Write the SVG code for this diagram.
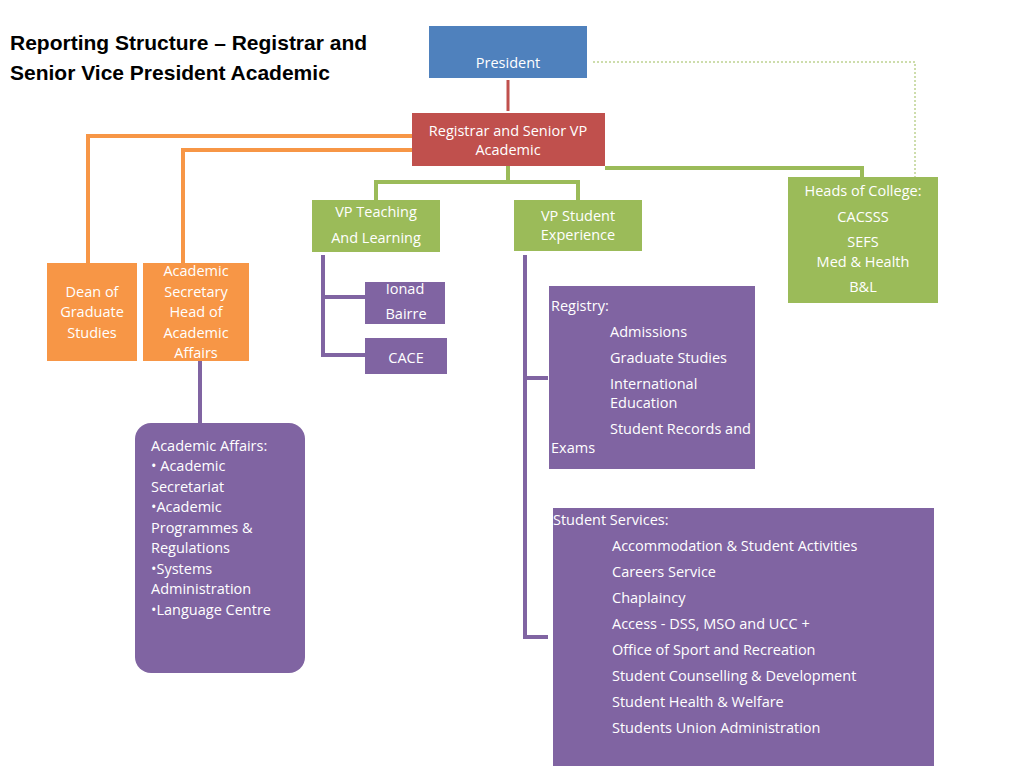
<svg xmlns="http://www.w3.org/2000/svg" width="1024" height="768" viewBox="0 0 1024 768">
<style>
text{font-family:"Open Sans","Liberation Sans",sans-serif;font-size:14.5px;fill:#fff}
.c{text-anchor:middle}
.t{fill:#000;font-weight:bold;font-size:21px;font-family:"Liberation Sans Narrow","Liberation Sans",sans-serif}
.o{stroke:#f79646;stroke-width:4;fill:none}
.g{stroke:#9bbb59;stroke-width:4;fill:none}
.p{stroke:#8064a2;stroke-width:4;fill:none}
</style>
<rect width="1024" height="768" fill="#fff"/>
<text class="t" x="10" y="50">Reporting Structure – Registrar and</text>
<text class="t" x="10" y="80">Senior Vice President Academic</text>
<g id="connectors">
<line x1="508" y1="80" x2="508" y2="111" stroke="#c0504d" stroke-width="3"/>
<polyline points="593,62 915,62 915,177" fill="none" stroke="#9bbb59" stroke-width="1" stroke-dasharray="2,2"/>
<polyline class="o" points="412,136 88,136 88,263"/>
<polyline class="o" points="412,150 183,150 183,263"/>
<polyline class="g" points="508,166 508,182"/>
<polyline class="g" points="376,200 376,182 578,182 578,200"/>
<polyline class="g" points="605,168 862,168 862,177"/>
<line class="p" x1="200" y1="361" x2="200" y2="423"/>
<polyline class="p" points="323,255 323,355 365,355"/>
<line class="p" x1="323" y1="297" x2="365" y2="297"/>
<polyline class="p" points="525,255 525,637 548,637"/>
<line class="p" x1="525" y1="378" x2="548" y2="378"/>
</g>
<g id="president"><rect x="429" y="26" width="158" height="52" fill="#4f81bd"/><text class="c" x="508" y="68">President</text></g>
<g id="registrar"><rect x="412" y="113" width="193" height="53" fill="#c0504d"/><text class="c" x="508" y="136">Registrar and Senior VP</text><text class="c" x="508" y="155">Academic</text></g>
<g id="vpteaching"><rect x="312" y="200" width="128" height="52" fill="#9bbb59"/><text class="c" x="376" y="217">VP Teaching</text><text class="c" x="376" y="243">And Learning</text></g>
<g id="vpstudent"><rect x="514" y="200" width="128" height="51" fill="#9bbb59"/><text class="c" x="578" y="221">VP Student</text><text class="c" x="578" y="240">Experience</text></g>
<g id="heads"><rect x="788" y="177" width="150" height="126" fill="#9bbb59"/><text class="c" x="863" y="196">Heads of College:</text><text class="c" x="863" y="222">CACSSS</text><text class="c" x="863" y="247">SEFS</text><text class="c" x="863" y="267">Med &amp; Health</text><text class="c" x="863" y="292">B&amp;L</text></g>
<g id="dean"><rect x="47" y="263" width="90" height="98" fill="#f79646"/><text class="c" x="92" y="297">Dean of</text><text class="c" x="92" y="317">Graduate</text><text class="c" x="92" y="338">Studies</text></g>
<g id="acsec"><rect x="143" y="263" width="106" height="98" fill="#f79646"/><text class="c" x="196" y="276">Academic</text><text class="c" x="196" y="297">Secretary</text><text class="c" x="196" y="317">Head of</text><text class="c" x="196" y="338">Academic</text><text class="c" x="196" y="358">Affairs</text></g>
<g id="acaffairs"><rect x="135" y="423" width="170" height="250" rx="16" fill="#8064a2"/>
<text x="151" y="451">Academic Affairs:</text><text x="151" y="471">• Academic</text><text x="151" y="492">Secretariat</text><text x="151" y="512">•Academic</text><text x="151" y="533">Programmes &amp;</text><text x="151" y="553">Regulations</text><text x="151" y="574">•Systems</text><text x="151" y="594">Administration</text><text x="151" y="615">•Language Centre</text></g>
<g id="ionad"><rect x="365" y="282" width="80" height="42" fill="#8064a2"/><text class="c" x="405" y="294">Ionad</text><text class="c" x="406" y="319">Bairre</text></g>
<g id="cace"><rect x="365" y="338" width="82" height="36" fill="#8064a2"/><text class="c" x="406" y="363">CACE</text></g>
<g id="registry"><rect x="549" y="286" width="206" height="183" fill="#8064a2"/>
<text x="551" y="311">Registry:</text><text x="610" y="337">Admissions</text><text x="610" y="363">Graduate Studies</text><text x="610" y="389">International</text><text x="610" y="408">Education</text><text x="610" y="434">Student Records  and</text><text x="551" y="453">Exams</text></g>
<g id="services"><rect x="553" y="508" width="381" height="258" fill="#8064a2"/>
<text x="553" y="525">Student Services:</text><text x="612" y="551">Accommodation &amp; Student Activities</text><text x="612" y="577">Careers Service</text><text x="612" y="603">Chaplaincy</text><text x="612" y="629">Access  - DSS, MSO and UCC +</text><text x="612" y="655">Office of Sport and Recreation</text><text x="612" y="681">Student Counselling  &amp; Development</text><text x="612" y="707">Student Health &amp; Welfare</text><text x="612" y="733">Students Union Administration</text></g>
</svg>
